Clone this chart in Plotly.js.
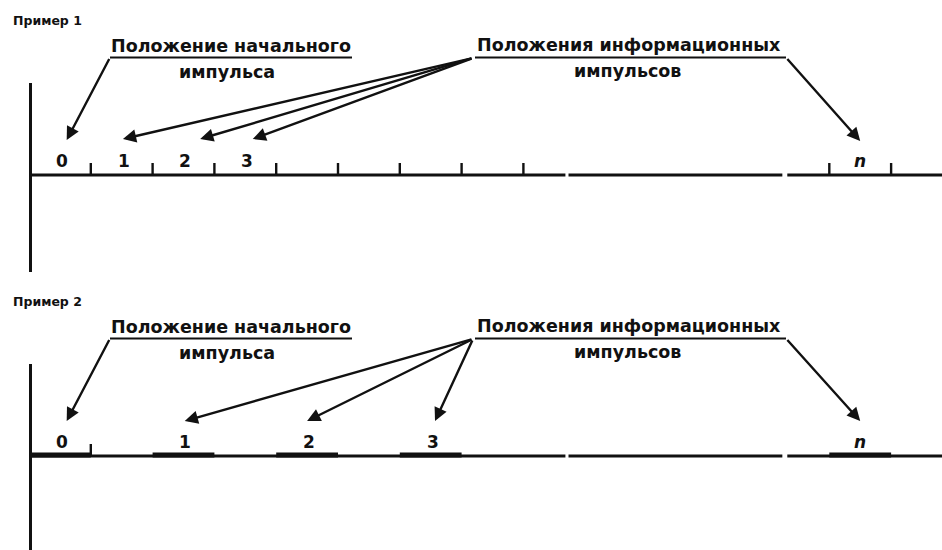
<!DOCTYPE html>
<html><head><meta charset="utf-8">
<script src="https://cdn.plot.ly/plotly-3.0.1.min.js"></script>
<style>html,body{margin:0;padding:0;background:#fff}#chart{width:942px;height:550px}</style>
</head><body><div id="chart"></div>
<script>
// ---- data ----
const exampleTitles = ['Пример 1', 'Пример 2'];
const startLabel = ['Положение начального', 'импульса'];
const infoLabel = ['Положения информационных', 'импульсов'];
const slotLabels = ['0', '1', '2', '3'];
const lastSlotLabel = 'n';
const ex1TickSlots = [1, 2, 3, 4, 5, 6, 7, 8];
const ex1LabelSlots = [0, 1, 2, 3];
const ex2TickSlots = [1];
const ex2PulseSlots = [0, 2, 4, 6];
const lastSlot = 12.95;
const breakSlots = [8.7, 12.23];

// ---- layout helpers ----
const SLOT = 61.8, ORIGIN = 29;
const X = px => (px - ORIGIN) / SLOT;          // pixel -> slot units
const XMIN = X(0), XMAX = X(942);
const DY = 281;                                 // vertical offset of example 2
const BASE = 175;                               // baseline of example 1
const INK = '#111';
const FONT = 'DejaVu Sans, Liberation Sans, Arial, sans-serif';

const traces = [];
const shapes = [];
const ann = [];

function line(x0, y0, x1, y1, w) {
  shapes.push({type: 'line', xref: 'x', yref: 'y', x0, y0, x1, y1,
    line: {color: INK, width: w}});
}
function text(x, y, t, size, opts) {
  ann.push(Object.assign({x, y, xref: 'x', yref: 'y', text: t, showarrow: false,
    xanchor: 'center', yanchor: 'middle',
    font: {family: FONT, size, color: INK, weight: 'bold'}}, opts || {}));
}
function arrow(tx, ty, fx, fy) {
  ann.push({x: tx, y: ty, ax: fx, ay: fy, xref: 'x', yref: 'y', axref: 'x', ayref: 'y',
    text: '', showarrow: true, arrowhead: 2, arrowsize: 1.1, arrowwidth: 2.4,
    arrowcolor: INK, standoff: 0, startstandoff: 0});
}

function baseline(y) {
  const segs = [[X(31), breakSlots[0] - 0.02], [breakSlots[0] + 0.03, breakSlots[1] - 0.04],
                [breakSlots[1] + 0.04, XMAX]];
  segs.forEach(s => traces.push({x: s, y: [y, y], mode: 'lines', hoverinfo: 'skip',
    line: {color: INK, width: 3.2}}));
}

[0, 1].forEach(k => {
  const off = k * DY;
  const base = BASE + off;
  // example title
  text(X(11), 20 + off, exampleTitles[k], 12.5, {xanchor: 'left'});
  // vertical axis
  line(X(30.5), 83 + off, X(30.5), k === 0 ? 272 : 550, 3);
  baseline(base);
  // captions with underlines
  text(X(231), 46 + off, startLabel[0], 17.5);
  text(X(227), 72 + off, startLabel[1], 17.5);
  line(X(110), 57.5 + off, X(352), 57.5 + off, 2.2);
  text(X(629), 45 + off, infoLabel[0], 17.5);
  text(X(627), 71 + off, infoLabel[1], 17.5);
  line(X(475), 57.5 + off, X(786), 57.5 + off, 2.2);
});

// ---- example 1 ----
const ex1Ticks = ex1TickSlots.concat([lastSlot, lastSlot + 1]);
ex1Ticks.forEach(s => traces.push({x: [s, s], y: [BASE - 12, BASE], mode: 'lines',
  hoverinfo: 'skip', line: {color: INK, width: 2.4}}));
ex1LabelSlots.forEach((s, i) => text(s + 0.53, BASE - 14, slotLabels[i], 17));
text(lastSlot + 0.5, BASE - 14, '<i>' + lastSlotLabel + '</i>', 17);
const ex1Tips = [0.61, 1.52, 2.77, 3.62];
arrow(ex1Tips[0], 140, X(110), 57.5);
ex1Tips.slice(1).forEach(t => arrow(t, 139, X(473), 58));
arrow(lastSlot + 0.5, 141, X(786), 57.5);

// ---- example 2 ----
const B2 = BASE + DY;
ex2TickSlots.forEach(s => traces.push({x: [s, s], y: [B2 - 12, B2], mode: 'lines',
  hoverinfo: 'skip', line: {color: INK, width: 2.4}}));
ex2PulseSlots.concat([lastSlot]).forEach(s => traces.push({x: [s === 0 ? X(31) : s, s + 1], y: [B2 - 1, B2 - 1],
  mode: 'lines', hoverinfo: 'skip', line: {color: INK, width: 5}}));
ex2PulseSlots.forEach((s, i) => text(s + 0.53, B2 - 14, slotLabels[i], 17));
text(lastSlot + 0.5, B2 - 14, '<i>' + lastSlotLabel + '</i>', 17);
const ex2Tips = [0.61, 2.52, 4.5, 6.57];
arrow(ex2Tips[0], 421, X(110), 57.5 + DY);
ex2Tips.slice(1).forEach(t => arrow(t, 421, X(473), 58 + DY));
arrow(lastSlot + 0.5, 421, X(786), 57.5 + DY);

Plotly.newPlot('chart', traces, {
  width: 942, height: 550,
  margin: {l: 0, r: 0, t: 0, b: 0},
  paper_bgcolor: '#fff', plot_bgcolor: '#fff',
  showlegend: false,
  xaxis: {range: [XMIN, XMAX], visible: false, fixedrange: true},
  yaxis: {range: [550, 0], visible: false, fixedrange: true},
  shapes, annotations: ann
}, {staticPlot: true});
</script></body></html>
